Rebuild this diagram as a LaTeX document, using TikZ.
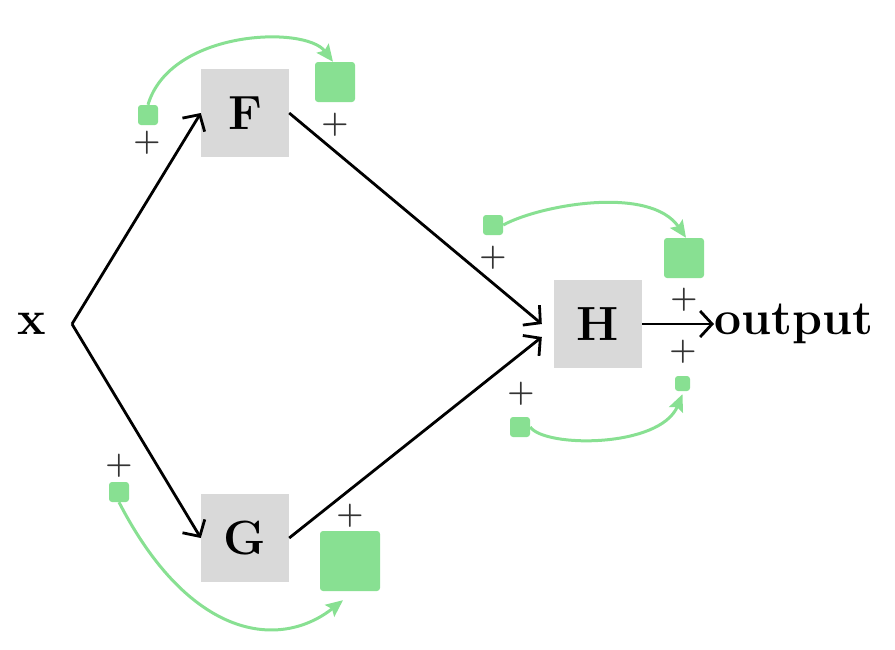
\documentclass[tikz,border=0pt]{standalone}
\usetikzlibrary{arrows.meta}
\definecolor{boxgray}{HTML}{D9D9D9}
\definecolor{lgreen}{HTML}{88E092}
\definecolor{plusgray}{HTML}{333333}
\begin{document}
\begin{tikzpicture}[x=1pt,y=-1pt,
  opbox/.style={fill=boxgray,minimum size=88pt,inner sep=0pt,font=\fontsize{48}{52}\selectfont\bfseries},
  lbl/.style={inner sep=0pt,font=\fontsize{48}{52}\selectfont\bfseries},
  gsq/.style={fill=lgreen,rounded corners=3pt,inner sep=0pt,minimum size=#1},
  plussign/.style={inner sep=0pt,text=plusgray,font=\fontsize{31}{34}\selectfont\bfseries},
  flow/.style={line width=2.8pt,-{Straight Barb[length=12pt,width=26pt,line width=2.8pt]}},
  grad/.style={line width=3pt,draw=lgreen,-{Stealth[length=17pt,width=15pt,inset=3pt]}}]
\useasboundingbox (0,0) rectangle (895,649);
% nodes
\node[lbl] (x) at (32,324) {x};
\coordinate (xs) at (72,324);
\node[opbox] (F) at (245,113) {F};
\node[opbox] (G) at (245,538) {G};
\node[opbox] (H) at (598,324) {H};
\node[lbl,anchor=base west] (out) at (714,334) {output};
% black flow arrows
\draw[flow] (xs) -- (F.west);
\draw[flow] (xs) -- (G.west);
\draw[flow] (F.east) -- ([xshift=-12pt]H.west);
\draw[flow] (G.east) -- ([xshift=-12pt,yshift=-13pt]H.west);
\draw[flow] (H.east) -- (H.east -| out.west);
% green squares
\node[gsq=20pt] (g1) at (148,115) {};
\node[gsq=40pt] (g2) at (335,82) {};
\node[gsq=20pt] (g3) at (493,225) {};
\node[gsq=40pt] (g4) at (684,258) {};
\node[gsq=20pt] (g5) at (520,427) {};
\node[gsq=15pt] (g6) at (682.5,383.5) {};
\node[gsq=20pt] (g7) at (119,492) {};
\node[gsq=60pt] (g8) at (350,561) {};
% plus signs
\node[plussign] (p1) at (147,143) {+};
\node[plussign] (p2) at (335,125) {+};
\node[plussign] (p3) at (493,258) {+};
\node[plussign] (p4) at (684,300) {+};
\node[plussign] (p5) at (521,394) {+};
\node[plussign] (p6) at (683,352) {+};
\node[plussign] (p7) at (119,466) {+};
\node[plussign] (p8) at (350,516) {+};
% green curves
\draw[grad] (g1.north) .. controls (170,30) and (305,25) .. ([xshift=-2pt]g2.north);
\draw[grad] (g3.east) .. controls (540,205) and (650,185) .. ([xshift=2pt]g4.north);
\draw[grad] (g5.east) .. controls (545,448) and (660,448) .. ([yshift=-3pt]g6.south);
\draw[grad] (g7.south) .. controls (190,640) and (280,650) .. ([xshift=-7pt,yshift=-9pt]g8.south);
\end{tikzpicture}
\end{document}
